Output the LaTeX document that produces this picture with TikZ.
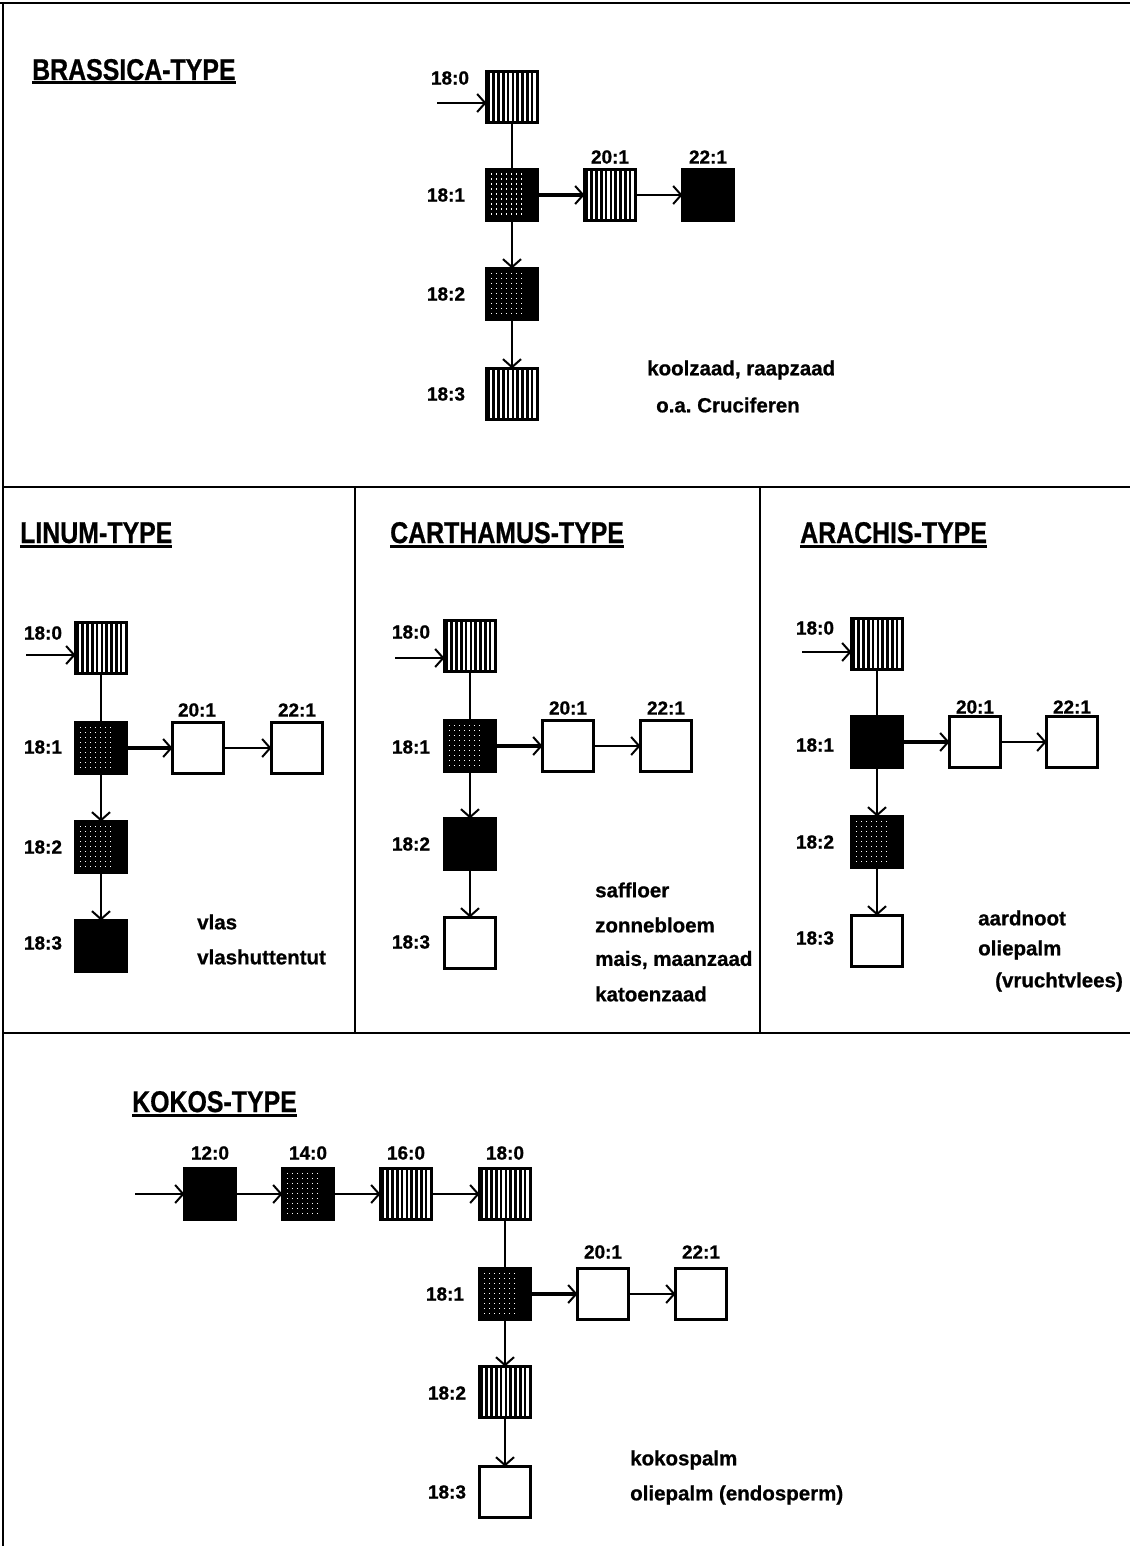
\documentclass[tikz,border=0pt]{standalone}
\usepackage{fontspec}
\usepackage{graphicx}
\setmainfont{Liberation Sans}[BoldFeatures={FakeBold=0.8}]
\usetikzlibrary{arrows.meta}
\newcommand\ttlul[1]{\setbox0\hbox{\scalebox{0.83}[1]{#1}}\rlap{\rule[-4.5pt]{\wd0}{3pt}}\box0}
\begin{document}
\begin{tikzpicture}[x=1pt,y=-1pt,
  frame/.style={line width=2.4pt},
  boxst/.style={draw, line width=2.4pt, minimum size=51pt, inner sep=0pt, outer sep=0pt},
  whitebox/.style={boxst, fill=white},
  blackbox/.style={boxst, fill=black},
  striped/.style={boxst, fill=white, path picture={
     \foreach \i in {0,...,10}
       \fill[black] ([xshift={1pt+\i*4.8pt}]path picture bounding box.south west) rectangle ++(2.6pt,60pt);}},
  dotted/.style={boxst, fill=black, path picture={
     \foreach \i in {0,...,6} \foreach \j in {0,...,8}
       \fill[white] ([xshift={4pt+\i*5pt}, yshift={-4pt-\j*5pt}]path picture bounding box.north west) rectangle ++(1.7pt,-1.7pt);}},
  lab/.style={font=\fontsize{19}{21}\selectfont\bfseries, inner sep=0pt},
  ptxt/.style={font=\fontsize{20.5}{23}\selectfont\bfseries, anchor=west, inner sep=0pt},
  ttl/.style={font=\fontsize{30}{32}\selectfont\bfseries, anchor=base west, inner sep=0pt},
  arr/.style={line width=2pt, -{Straight Barb[length=8pt,width=18pt]}},
  arrthick/.style={line width=3.4pt, -{Straight Barb[length=8pt,width=18pt,line width=2pt]}},
  plain/.style={line width=2pt}
]
\useasboundingbox (0,0) rectangle (1130,1546);
% frame
\draw[frame] (0,3) -- (1130,3);
\draw[frame] (3,3) -- (3,1546);
\draw[frame] (3,487) -- (1130,487);
\draw[frame] (3,1033) -- (1130,1033);
\draw[frame] (355,487) -- (355,1033);
\draw[frame] (760,487) -- (760,1033);

% ---------------- BRASSICA ----------------
\node[ttl] (tB) at (32,80) {\ttlul{BRASSICA-TYPE}};
\node[striped]  (B0)  at (512,97)  {};
\node[dotted]   (B1)  at (512,195) {};
\node[dotted]   (B2)  at (512,294) {};
\node[striped]  (B3)  at (512,394) {};
\node[striped]  (B20) at (610,195) {};
\node[blackbox] (B22) at (708,195) {};
\node[lab] (lB0) at (450,78) {18:0};
\node[lab] (lB1) at (446,195) {18:1};
\node[lab] (lB2) at (446,294) {18:2};
\node[lab] (lB3) at (446,394) {18:3};
\node[lab] (lB20) at (610,157) {20:1};
\node[lab] (lB22) at (708,157) {22:1};
\coordinate (inB) at (437,103);
\draw[arr] (inB) -- (inB -| B0.west);
\draw[plain] (B0.south) -- (B1.north);
\draw[arr] (B1.south) -- (B2.north);
\draw[arr] (B2.south) -- (B3.north);
\draw[arrthick] (B1.east) -- (B20.west);
\draw[arr] (B20.east) -- (B22.west);
\node[ptxt] (pB1) at (647,370) {koolzaad, raapzaad};
\node[ptxt] (pB2) at (656,405) {o.a.\ Cruciferen};

% ---------------- LINUM ----------------
\node[ttl] (tL) at (20,543) {\ttlul{LINUM-TYPE}};
\node[striped]  (L0)  at (101,648) {};
\node[dotted]   (L1)  at (101,748) {};
\node[dotted]   (L2)  at (101,847) {};
\node[blackbox] (L3)  at (101,946) {};
\node[whitebox] (L20) at (198,748) {};
\node[whitebox] (L22) at (297,748) {};
\node[lab] (lL0) at (43,633) {18:0};
\node[lab] (lL1) at (43,747) {18:1};
\node[lab] (lL2) at (43,847) {18:2};
\node[lab] (lL3) at (43,943) {18:3};
\node[lab] (lL20) at (197,710) {20:1};
\node[lab] (lL22) at (297,710) {22:1};
\coordinate (inL) at (26,655);
\draw[arr] (inL) -- (inL -| L0.west);
\draw[plain] (L0.south) -- (L1.north);
\draw[arr] (L1.south) -- (L2.north);
\draw[arr] (L2.south) -- (L3.north);
\draw[arrthick] (L1.east) -- (L20.west);
\draw[arr] (L20.east) -- (L22.west);
\node[ptxt] (pL1) at (197,922) {vlas};
\node[ptxt] (pL2) at (197,957) {vlashuttentut};

% ---------------- CARTHAMUS ----------------
\node[ttl] (tC) at (390,543) {\ttlul{CARTHAMUS-TYPE}};
\node[striped]  (C0)  at (470,646) {};
\node[dotted]   (C1)  at (470,746) {};
\node[blackbox] (C2)  at (470,844) {};
\node[whitebox] (C3)  at (470,943) {};
\node[whitebox] (C20) at (568,746) {};
\node[whitebox] (C22) at (666,746) {};
\node[lab] (lC0) at (411,632) {18:0};
\node[lab] (lC1) at (411,747) {18:1};
\node[lab] (lC2) at (411,844) {18:2};
\node[lab] (lC3) at (411,942) {18:3};
\node[lab] (lC20) at (568,708) {20:1};
\node[lab] (lC22) at (666,708) {22:1};
\coordinate (inC) at (395,658);
\draw[arr] (inC) -- (inC -| C0.west);
\draw[plain] (C0.south) -- (C1.north);
\draw[arr] (C1.south) -- (C2.north);
\draw[arr] (C2.south) -- (C3.north);
\draw[arrthick] (C1.east) -- (C20.west);
\draw[arr] (C20.east) -- (C22.west);
\node[ptxt] (pC1) at (595,890) {saffloer};
\node[ptxt] (pC2) at (595,925) {zonnebloem};
\node[ptxt] (pC3) at (595,960) {mais, maanzaad};
\node[ptxt] (pC4) at (595,994) {katoenzaad};

% ---------------- ARACHIS ----------------
\node[ttl] (tA) at (800,543) {\ttlul{ARACHIS-TYPE}};
\node[striped]  (A0)  at (877,644) {};
\node[blackbox] (A1)  at (877,742) {};
\node[dotted]   (A2)  at (877,842) {};
\node[whitebox] (A3)  at (877,941) {};
\node[whitebox] (A20) at (975,742) {};
\node[whitebox] (A22) at (1072,742) {};
\node[lab] (lA0) at (815,628) {18:0};
\node[lab] (lA1) at (815,745) {18:1};
\node[lab] (lA2) at (815,842) {18:2};
\node[lab] (lA3) at (815,938) {18:3};
\node[lab] (lA20) at (975,707) {20:1};
\node[lab] (lA22) at (1072,707) {22:1};
\coordinate (inA) at (802,652);
\draw[arr] (inA) -- (inA -| A0.west);
\draw[plain] (A0.south) -- (A1.north);
\draw[arr] (A1.south) -- (A2.north);
\draw[arr] (A2.south) -- (A3.north);
\draw[arrthick] (A1.east) -- (A20.west);
\draw[arr] (A20.east) -- (A22.west);
\node[ptxt] (pA1) at (978,918) {aardnoot};
\node[ptxt] (pA2) at (978,950) {oliepalm};
\node[ptxt] (pA3) at (995,982) {(vruchtvlees)};

% ---------------- KOKOS ----------------
\node[ttl] (tK) at (132,1112) {\ttlul{KOKOS-TYPE}};
\node[blackbox] (K12) at (210,1194) {};
\node[dotted]   (K14) at (308,1194) {};
\node[striped]  (K16) at (406,1194) {};
\node[striped]  (K18) at (505,1194) {};
\node[dotted]   (K1)  at (505,1294) {};
\node[striped]  (K2)  at (505,1392) {};
\node[whitebox] (K3)  at (505,1492) {};
\node[whitebox] (K20) at (603,1294) {};
\node[whitebox] (K22) at (701,1294) {};
\node[lab] (lK12) at (210,1153) {12:0};
\node[lab] (lK14) at (308,1153) {14:0};
\node[lab] (lK16) at (406,1153) {16:0};
\node[lab] (lK18) at (505,1153) {18:0};
\node[lab] (lK1) at (445,1294) {18:1};
\node[lab] (lK2) at (447,1393) {18:2};
\node[lab] (lK3) at (447,1492) {18:3};
\node[lab] (lK20) at (603,1252) {20:1};
\node[lab] (lK22) at (701,1252) {22:1};
\coordinate (inK) at (135,1194);
\draw[arr] (inK) -- (K12.west);
\draw[arr] (K12.east) -- (K14.west);
\draw[arr] (K14.east) -- (K16.west);
\draw[arr] (K16.east) -- (K18.west);
\draw[plain] (K18.south) -- (K1.north);
\draw[arr] (K1.south) -- (K2.north);
\draw[arr] (K2.south) -- (K3.north);
\draw[arrthick] (K1.east) -- (K20.west);
\draw[arr] (K20.east) -- (K22.west);
\node[ptxt] (pK1) at (630,1460) {kokospalm};
\node[ptxt] (pK2) at (630,1495) {oliepalm (endosperm)};
\end{tikzpicture}
\end{document}
